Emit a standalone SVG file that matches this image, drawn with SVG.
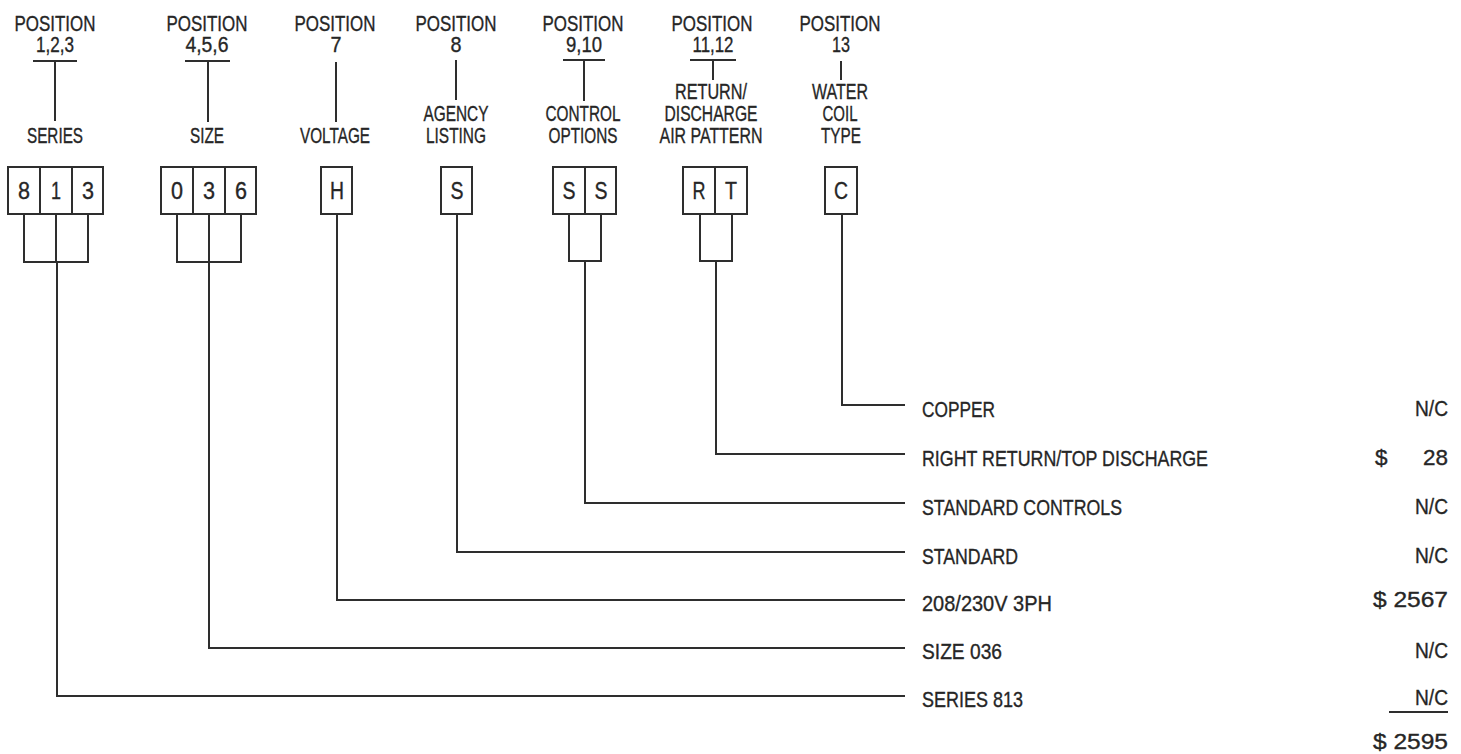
<svg xmlns="http://www.w3.org/2000/svg" width="1461" height="754" viewBox="0 0 1461 754">
<style>
text{font-family:"Liberation Sans",Arial,sans-serif;fill:#262626;font-size:22.5px;stroke:#262626;stroke-width:0.35}
.c{text-anchor:middle}
.e{text-anchor:end}
.bx{font-size:23.5px;text-anchor:middle}
.ln{stroke:#2e2e2e;stroke-width:2;fill:none}
.box{stroke:#2e2e2e;stroke-width:2;fill:#fff}
</style>
<rect width="1461" height="754" fill="#fff"/>

<g id="pos-1-2-3">
<text class="c" x="55" y="31" textLength="81" lengthAdjust="spacingAndGlyphs">POSITION</text>
<text class="c" x="55" y="52" textLength="38" lengthAdjust="spacingAndGlyphs">1,2,3</text>
<path class="ln" d="M33 61H77M55 61V121"/>
<text class="c" x="55" y="143" textLength="56" lengthAdjust="spacingAndGlyphs">SERIES</text>
<rect class="box" x="8" y="167" width="95" height="47"/>
<path class="ln" d="M40 167V214M72 167V214"/>
<text class="bx" x="24" y="199" textLength="12" lengthAdjust="spacingAndGlyphs">8</text>
<text class="bx" x="56" y="199" textLength="10" lengthAdjust="spacingAndGlyphs">1</text>
<text class="bx" x="88" y="199" textLength="12" lengthAdjust="spacingAndGlyphs">3</text>
</g>

<g id="pos-4-5-6">
<text class="c" x="207" y="31" textLength="81" lengthAdjust="spacingAndGlyphs">POSITION</text>
<text class="c" x="207" y="52" textLength="43" lengthAdjust="spacingAndGlyphs">4,5,6</text>
<path class="ln" d="M185 61H230M208 61V122"/>
<text class="c" x="207" y="143" textLength="34" lengthAdjust="spacingAndGlyphs">SIZE</text>
<rect class="box" x="161" y="167" width="95" height="47"/>
<path class="ln" d="M193 167V214M225 167V214"/>
<text class="bx" x="177" y="199" textLength="12" lengthAdjust="spacingAndGlyphs">0</text>
<text class="bx" x="209" y="199" textLength="12" lengthAdjust="spacingAndGlyphs">3</text>
<text class="bx" x="241" y="199" textLength="12" lengthAdjust="spacingAndGlyphs">6</text>
</g>

<g id="pos-7">
<text class="c" x="335" y="31" textLength="81" lengthAdjust="spacingAndGlyphs">POSITION</text>
<text class="c" x="336" y="52" textLength="11" lengthAdjust="spacingAndGlyphs">7</text>
<path class="ln" d="M336 62V122"/>
<text class="c" x="335" y="143" textLength="70" lengthAdjust="spacingAndGlyphs">VOLTAGE</text>
<rect class="box" x="321" y="167" width="31" height="47"/>
<text class="bx" x="337" y="199" textLength="14" lengthAdjust="spacingAndGlyphs">H</text>
</g>

<g id="pos-8">
<text class="c" x="456" y="31" textLength="81" lengthAdjust="spacingAndGlyphs">POSITION</text>
<text class="c" x="456" y="52" textLength="11" lengthAdjust="spacingAndGlyphs">8</text>
<path class="ln" d="M456 60V100"/>
<text class="c" x="456" y="121" textLength="65" lengthAdjust="spacingAndGlyphs">AGENCY</text>
<text class="c" x="456" y="143" textLength="60" lengthAdjust="spacingAndGlyphs">LISTING</text>
<rect class="box" x="441" y="167" width="31" height="47"/>
<text class="bx" x="457" y="199" textLength="13" lengthAdjust="spacingAndGlyphs">S</text>
</g>

<g id="pos-9-10">
<text class="c" x="583" y="31" textLength="81" lengthAdjust="spacingAndGlyphs">POSITION</text>
<text class="c" x="584" y="52" textLength="36" lengthAdjust="spacingAndGlyphs">9,10</text>
<path class="ln" d="M563 60H605M584 60V101"/>
<text class="c" x="583" y="121" textLength="75" lengthAdjust="spacingAndGlyphs">CONTROL</text>
<text class="c" x="583" y="143" textLength="69" lengthAdjust="spacingAndGlyphs">OPTIONS</text>
<rect class="box" x="553" y="167" width="63" height="47"/>
<path class="ln" d="M585 167V214"/>
<text class="bx" x="569" y="199" textLength="13" lengthAdjust="spacingAndGlyphs">S</text>
<text class="bx" x="601" y="199" textLength="13" lengthAdjust="spacingAndGlyphs">S</text>
</g>

<g id="pos-11-12">
<text class="c" x="712" y="31" textLength="81" lengthAdjust="spacingAndGlyphs">POSITION</text>
<text class="c" x="713" y="52" textLength="41" lengthAdjust="spacingAndGlyphs">11,12</text>
<path class="ln" d="M690 60H736M713 60V80"/>
<text class="c" x="711" y="99" textLength="72" lengthAdjust="spacingAndGlyphs">RETURN/</text>
<text class="c" x="711" y="121" textLength="93" lengthAdjust="spacingAndGlyphs">DISCHARGE</text>
<text class="c" x="711" y="143" textLength="103" lengthAdjust="spacingAndGlyphs">AIR PATTERN</text>
<rect class="box" x="683" y="167" width="64" height="47"/>
<path class="ln" d="M715 167V214"/>
<text class="bx" x="699" y="199" textLength="13" lengthAdjust="spacingAndGlyphs">R</text>
<text class="bx" x="731" y="199" textLength="12" lengthAdjust="spacingAndGlyphs">T</text>
</g>

<g id="pos-13">
<text class="c" x="840" y="31" textLength="81" lengthAdjust="spacingAndGlyphs">POSITION</text>
<text class="c" x="841" y="52" textLength="18" lengthAdjust="spacingAndGlyphs">13</text>
<path class="ln" d="M841 61V80"/>
<text class="c" x="840" y="99" textLength="56" lengthAdjust="spacingAndGlyphs">WATER</text>
<text class="c" x="840" y="121" textLength="35" lengthAdjust="spacingAndGlyphs">COIL</text>
<text class="c" x="841" y="143" textLength="40" lengthAdjust="spacingAndGlyphs">TYPE</text>
<rect class="box" x="825" y="167" width="32" height="47"/>
<text class="bx" x="841" y="199" textLength="14" lengthAdjust="spacingAndGlyphs">C</text>
</g>

<g id="connectors">
<path class="ln" d="M24 214V262H88V214M56 214V262M57 262V696H905"/>
<path class="ln" d="M177 214V262H241V214M209 214V262M209 262V648H905"/>
<path class="ln" d="M337 214V600H905"/>
<path class="ln" d="M457 214V552H905"/>
<path class="ln" d="M569 214V261H601V214M585 261V503H905"/>
<path class="ln" d="M700 214V261H732V214M716 261V454H905"/>
<path class="ln" d="M842 214V405H905"/>
</g>

<g id="row-copper">
<text x="922" y="417" textLength="73" lengthAdjust="spacingAndGlyphs">COPPER</text>
<text class="e" x="1448" y="416" textLength="33" lengthAdjust="spacingAndGlyphs">N/C</text>
</g>
<g id="row-return">
<text x="922" y="466" textLength="286" lengthAdjust="spacingAndGlyphs">RIGHT RETURN/TOP DISCHARGE</text>
<text y="465"><tspan x="1375">$</tspan><tspan x="1448" text-anchor="end">28</tspan></text>
</g>
<g id="row-controls">
<text x="922" y="515" textLength="200" lengthAdjust="spacingAndGlyphs">STANDARD CONTROLS</text>
<text class="e" x="1448" y="514" textLength="33" lengthAdjust="spacingAndGlyphs">N/C</text>
</g>
<g id="row-agency">
<text x="922" y="564" textLength="96" lengthAdjust="spacingAndGlyphs">STANDARD</text>
<text class="e" x="1448" y="563" textLength="33" lengthAdjust="spacingAndGlyphs">N/C</text>
</g>
<g id="row-voltage">
<text x="922" y="611" textLength="130" lengthAdjust="spacingAndGlyphs">208/230V 3PH</text>
<text class="e" x="1448" y="607" textLength="75" lengthAdjust="spacingAndGlyphs">$ 2567</text>
</g>
<g id="row-size">
<text x="922" y="659" textLength="80" lengthAdjust="spacingAndGlyphs">SIZE 036</text>
<text class="e" x="1448" y="658" textLength="33" lengthAdjust="spacingAndGlyphs">N/C</text>
</g>
<g id="row-series">
<text x="922" y="707" textLength="101" lengthAdjust="spacingAndGlyphs">SERIES 813</text>
<text class="e" x="1448" y="705" textLength="33" lengthAdjust="spacingAndGlyphs">N/C</text>
<path class="ln" d="M1389 712H1448"/>
</g>
<g id="total">
<text class="e" x="1448" y="749" textLength="75" lengthAdjust="spacingAndGlyphs">$ 2595</text>
</g>
</svg>
